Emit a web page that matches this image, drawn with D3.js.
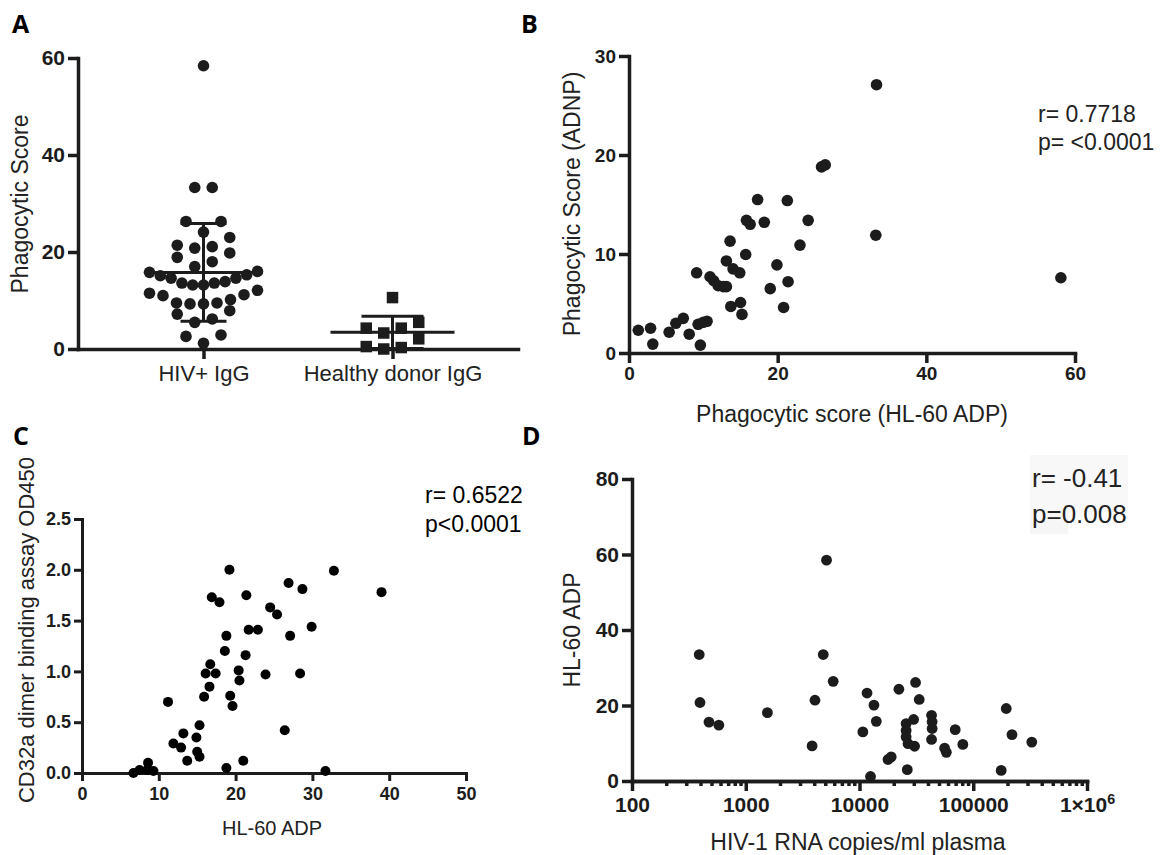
<!DOCTYPE html>
<html><head><meta charset="utf-8">
<script src="https://cdn.jsdelivr.net/npm/d3@7"></script>
<style>
html,body{margin:0;padding:0;background:#fff;}
svg{display:block;}
</style></head><body>
<svg id="fig" width="1163" height="855"></svg>
<script>
// ---------- data ----------
// Panel A: phagocytic score per subject
const groups = ["HIV+ IgG", "Healthy donor IgG"];
const hivIgG = [58.4, 33.3, 33.3, 26.3, 26.3, 24.1, 23.0, 20.8, 21.4, 21.1, 19.8, 18.9, 18.0, 17.0,
  15.8, 15.1, 14.6, 13.6, 13.2, 13.2, 13.6, 13.9, 14.6, 15.3, 16.0,
  12.1, 11.2, 10.2, 9.5, 9.3, 9.3, 9.5, 11.0, 11.5,
  7.9, 7.2, 6.2, 5.5, 2.9, 2.6, 1.2];
const healthyIgG = [10.6, 5.5, 4.3, 4.3, 3.3, 2.1, 0.5, 0.0, 0.3];
const panelATicks = [0, 20, 40, 60];

// Panel B: HL-60 ADP score vs ADNP score
const bHL60 = [1.25, 2.9, 3.2, 5.4, 6.3, 7.3, 8.1, 9.1, 9.3, 10.0, 10.5, 9.6, 10.9, 11.4, 12.0, 12.7, 13.1,
  13.1, 13.6, 13.7, 14.0, 14.9, 15.0, 15.2, 15.7, 15.8, 16.3, 17.3, 18.2, 19.0, 19.9, 20.8, 21.3, 21.4,
  23.0, 24.1, 25.9, 26.4, 33.3, 33.2, 58.1];
const bADNP = [2.3, 2.5, 0.9, 2.1, 3.0, 3.5, 1.9, 8.1, 2.9, 3.1, 3.2, 0.8, 7.7, 7.3, 6.8, 6.7, 6.7,
  9.3, 11.3, 4.7, 8.5, 8.1, 5.1, 3.9, 9.95, 13.4, 13.0, 15.5, 13.2, 6.5, 8.9, 4.6, 15.4, 7.2,
  10.9, 13.4, 18.8, 19.0, 27.1, 11.9, 7.6];
const bXTicks = [0, 20, 40, 60];
const bYTicks = [0, 10, 20, 30];
const bStats = ["r= 0.7718", "p= <0.0001"];

// Panel C: HL-60 ADP vs CD32a dimer binding (OD450)
const cHL60 = [6.7, 7.5, 8.6, 8.5, 9.3, 11.2, 11.9, 12.9, 13.2, 13.7, 14.9, 15.0, 15.3, 15.3, 15.9, 16.1,
  16.6, 16.7, 16.9, 17.4, 17.9, 18.6, 18.8, 18.8, 19.2, 19.3, 19.6, 20.4, 20.5, 21.0, 21.4, 21.3, 21.7,
  22.9, 23.9, 24.5, 25.4, 26.9, 28.7, 27.1, 29.9, 28.4, 26.4, 31.7, 32.8, 39.0];
const cOD450 = [0.0, 0.03, 0.10, 0.03, 0.02, 0.70, 0.29, 0.25, 0.39, 0.12, 0.35, 0.21, 0.47, 0.16, 0.75, 0.98,
  0.85, 1.07, 1.73, 0.98, 1.68, 1.20, 1.35, 0.05, 2.0, 0.76, 0.66, 1.01, 0.91, 0.12, 1.75, 1.16, 1.41,
  1.41, 0.97, 1.63, 1.56, 1.87, 1.81, 1.35, 1.44, 0.98, 0.42, 0.02, 1.99, 1.78];
const cXTicks = [0, 10, 20, 30, 40, 50];
const cYTicks = [0, 0.5, 1.0, 1.5, 2.0, 2.5];
const cStats = ["r= 0.6522", "p<0.0001"];

// Panel D: viral load vs HL-60 ADP
const dCopies = [390, 396, 475, 580, 1550, 3830, 4060, 4800, 5130, 5870, 10700, 11650, 13400, 14050, 12500,
  17800, 19000, 22200, 31100, 33500, 29900, 25700, 25700, 25700, 26700, 30500, 26300, 43000, 43500,
  43500, 43000, 56000, 58000, 69400, 81000, 195000, 219000, 327000, 176000];
const dHL60 = [33.5, 20.8, 15.6, 14.8, 18.1, 9.3, 21.4, 33.5, 58.5, 26.4, 13.0, 23.3, 20.1, 15.8, 1.2,
  5.7, 6.4, 24.3, 26.1, 21.6, 16.3, 15.2, 13.4, 11.7, 9.9, 9.2, 3.0, 17.4, 15.7,
  13.9, 11.0, 8.7, 7.6, 13.6, 9.7, 19.2, 12.3, 10.3, 2.8];
const dXTicks = [100, 1000, 10000, 100000, 1000000];
const dYTicks = [0, 20, 40, 60, 80];
const dStats = ["r= -0.41", "p=0.008"];

// ---------- shared style ----------
const FONT = '"Liberation Sans", Arial, Helvetica, sans-serif';
const INK = "#1c1c1c";
const svg = d3.select("#fig");

function styleAxis(g, width, fontSize) {
  g.attr("font-family", FONT).attr("font-size", fontSize);
  g.select(".domain").attr("stroke", INK).attr("stroke-width", width).attr("stroke-linecap", "square");
  g.selectAll(".tick line").attr("stroke", INK).attr("stroke-width", width);
  g.selectAll(".tick text").attr("fill", INK).attr("font-weight", "bold");
  return g;
}
function label(x, y, str, size, opts = {}) {
  const t = svg.append("text").attr("x", x).attr("y", y).text(str)
    .attr("font-family", opts.family || FONT).attr("font-size", size)
    .attr("fill", opts.fill || "#222").attr("text-anchor", opts.anchor || "start");
  if (opts.bold) t.attr("font-weight", "bold");
  if (opts.rotate) t.attr("transform", `rotate(-90,${x},${y})`);
  return t;
}
function panelLetter(x, y, s) {
  label(x, y, s, 25, { bold: true, fill: "#000", family: '"Open Sans", "DejaVu Sans", sans-serif' });
}

// Row-binned scatter (column scatter layout): values closer than binPx share a row;
// lowest values of a row sit in the middle, higher values spread outward.
function rowSwarm(vals, y, binPx, maxGap, maxSpan) {
  const order = vals.map((v, i) => i).sort((a, b) => vals[a] - vals[b]);
  const rows = [];
  let cur = null;
  for (const i of order) {
    if (!cur || y(vals[cur[0]]) - y(vals[i]) >= binPx) { cur = []; rows.push(cur); }
    cur.push(i);
  }
  const out = new Array(vals.length);
  rows.forEach(row => {
    const n = row.length;
    const s = n > 1 ? Math.min(maxGap, maxSpan / (n - 1)) : 0;
    const slots = d3.range(n).map(k => (k - (n - 1) / 2) * s)
      .sort((a, b) => Math.abs(a) - Math.abs(b) || a - b);
    row.forEach((idx, k) => { out[idx] = { dx: slots[k], y: y(vals[idx]) }; });
  });
  return out;
}

// ---------- Panel A ----------
{
  const x = d3.scalePoint().domain(groups).range([78, 518]).padding(0.664);
  const y = d3.scaleLinear().domain([0, 60]).range([349, 58]);

  const gx = svg.append("g").attr("transform", "translate(0,349)")
    .call(d3.axisBottom(x).tickSize(10).tickSizeOuter(0).tickPadding(6));
  styleAxis(gx, 3.5, 22);
  gx.selectAll(".tick text").attr("font-weight", "normal").attr("fill", "#222");

  const gy = svg.append("g").attr("transform", "translate(78,0)")
    .call(d3.axisLeft(y).tickValues(panelATicks).tickSize(10).tickSizeOuter(0).tickPadding(3));
  styleAxis(gy, 3.5, 21);

  label(28, 204, "Phagocytic Score", 23, { anchor: "middle", rotate: true });

  // error bars: mean ± SD
  const bars = [
    { g: groups[0], vals: hivIgG, meanHalf: 58, capHalf: 23 },
    { g: groups[1], vals: healthyIgG, meanHalf: 62, capHalf: 31 }
  ];
  bars.forEach(b => {
    const m = d3.mean(b.vals), sd = d3.deviation(b.vals);
    const cx = x(b.g);
    const eb = svg.append("g").attr("stroke", INK).attr("stroke-width", 3);
    eb.append("line").attr("x1", cx).attr("x2", cx).attr("y1", y(m - sd)).attr("y2", y(m + sd));
    eb.append("line").attr("x1", cx - b.meanHalf).attr("x2", cx + b.meanHalf).attr("y1", y(m)).attr("y2", y(m));
    [m - sd, m + sd].forEach(v => eb.append("line").attr("x1", cx - b.capHalf).attr("x2", cx + b.capHalf)
      .attr("y1", y(v)).attr("y2", y(v)));
  });

  const sw1 = rowSwarm(hivIgG, y, 14, 17.5, 108);
  svg.append("g").selectAll("circle").data(hivIgG).join("circle")
    .attr("cx", (d, i) => x(groups[0]) + sw1[i].dx).attr("cy", (d, i) => sw1[i].y)
    .attr("r", 5.8).attr("fill", INK);

  const sw2 = rowSwarm(healthyIgG, y, 14, 17.5, 108);
  const side = 11.5;
  svg.append("g").selectAll("rect").data(healthyIgG).join("rect")
    .attr("x", (d, i) => x(groups[1]) + sw2[i].dx - side / 2).attr("y", (d, i) => sw2[i].y - side / 2)
    .attr("width", side).attr("height", side).attr("fill", INK);

  panelLetter(12, 33, "A");
}

// ---------- Panel B ----------
{
  const x = d3.scaleLinear().domain([0, 60]).range([629, 1075]);
  const y = d3.scaleLinear().domain([0, 30]).range([353, 56]);
  const gx = svg.append("g").attr("transform", "translate(0,353)")
    .call(d3.axisBottom(x).tickValues(bXTicks).tickSize(10).tickSizeOuter(0).tickPadding(4));
  styleAxis(gx, 3.5, 19);
  const gy = svg.append("g").attr("transform", "translate(629,0)")
    .call(d3.axisLeft(y).tickValues(bYTicks).tickSize(10).tickSizeOuter(0).tickPadding(3));
  styleAxis(gy, 3.5, 19);

  svg.append("g").selectAll("circle").data(bHL60).join("circle")
    .attr("cx", d => x(d)).attr("cy", (d, i) => y(bADNP[i])).attr("r", 5.8).attr("fill", INK);

  label(852, 422, "Phagocytic score (HL-60 ADP)", 23, { anchor: "middle" });
  label(580, 204, "Phagocytic Score (ADNP)", 23, { anchor: "middle", rotate: true });
  bStats.forEach((s, i) => label(1038, 122 + i * 28, s, 23));
  panelLetter(521, 33, "B");
}

// ---------- Panel C ----------
{
  const x = d3.scaleLinear().domain([0, 50]).range([82, 466]);
  const y = d3.scaleLinear().domain([0, 2.5]).range([773, 519]);
  const gx = svg.append("g").attr("transform", "translate(0,773)")
    .call(d3.axisBottom(x).tickValues(cXTicks).tickSize(8).tickSizeOuter(0).tickPadding(6));
  styleAxis(gx, 3, 18);
  const gy = svg.append("g").attr("transform", "translate(82,0)")
    .call(d3.axisLeft(y).tickValues(cYTicks).tickFormat(d3.format(".1f")).tickSize(8).tickSizeOuter(0).tickPadding(3));
  styleAxis(gy, 3, 18);

  svg.append("g").selectAll("circle").data(cHL60).join("circle")
    .attr("cx", d => x(d)).attr("cy", (d, i) => y(cOD450[i])).attr("r", 5).attr("fill", "#000");

  label(272, 835, "HL-60 ADP", 20, { anchor: "middle" });
  label(34, 630, "CD32a dimer binding assay OD450", 22, { anchor: "middle", rotate: true });
  cStats.forEach((s, i) => label(425, 503 + i * 29, s, 23, { fill: "#000" }));
  panelLetter(13, 445, "C");
}

// ---------- Panel D ----------
{
  const x = d3.scaleLog().domain([100, 1e6]).range([632, 1087]);
  const y = d3.scaleLinear().domain([0, 80]).range([781, 479]);

  // faint shaded box behind the statistics
  svg.append("rect").attr("x", 1030).attr("y", 455).attr("width", 98).attr("height", 57).attr("fill", "#f8f8f8");
  svg.append("rect").attr("x", 1030).attr("y", 512).attr("width", 38).attr("height", 22).attr("fill", "#f6f6f6");

  const minor = [];
  for (let e = 2; e < 6; e++) for (let m = 2; m < 10; m++) minor.push(m * Math.pow(10, e));
  const gm = svg.append("g").attr("transform", "translate(0,781)")
    .call(d3.axisBottom(x).tickValues(minor).tickFormat("").tickSize(5).tickSizeOuter(0));
  styleAxis(gm, 3.5, 10);

  const fmt = d => d === 1e6 ? "1×10" : String(d);
  const gx = svg.append("g").attr("transform", "translate(0,781)")
    .call(d3.axisBottom(x).tickValues(dXTicks).tickFormat(fmt).tickSize(10).tickSizeOuter(0).tickPadding(6));
  styleAxis(gx, 3.5, 21);
  gx.selectAll(".tick text").filter(d => d === 1e6)
    .append("tspan").attr("dy", "-0.55em").attr("font-size", "0.68em").text("6");

  const gy = svg.append("g").attr("transform", "translate(632,0)")
    .call(d3.axisLeft(y).tickValues(dYTicks).tickSize(10).tickSizeOuter(0).tickPadding(3));
  styleAxis(gy, 3.5, 21);

  svg.append("g").selectAll("circle").data(dCopies).join("circle")
    .attr("cx", d => x(d)).attr("cy", (d, i) => y(dHL60[i])).attr("r", 5.4).attr("fill", INK);

  label(858, 850, "HIV-1 RNA copies/ml plasma", 23, { anchor: "middle" });
  label(580, 630, "HL-60 ADP", 23, { anchor: "middle", rotate: true });
  dStats.forEach((s, i) => label(1032, 487 + i * 36, s, 26));
  panelLetter(522, 445, "D");
}
</script></body></html>
